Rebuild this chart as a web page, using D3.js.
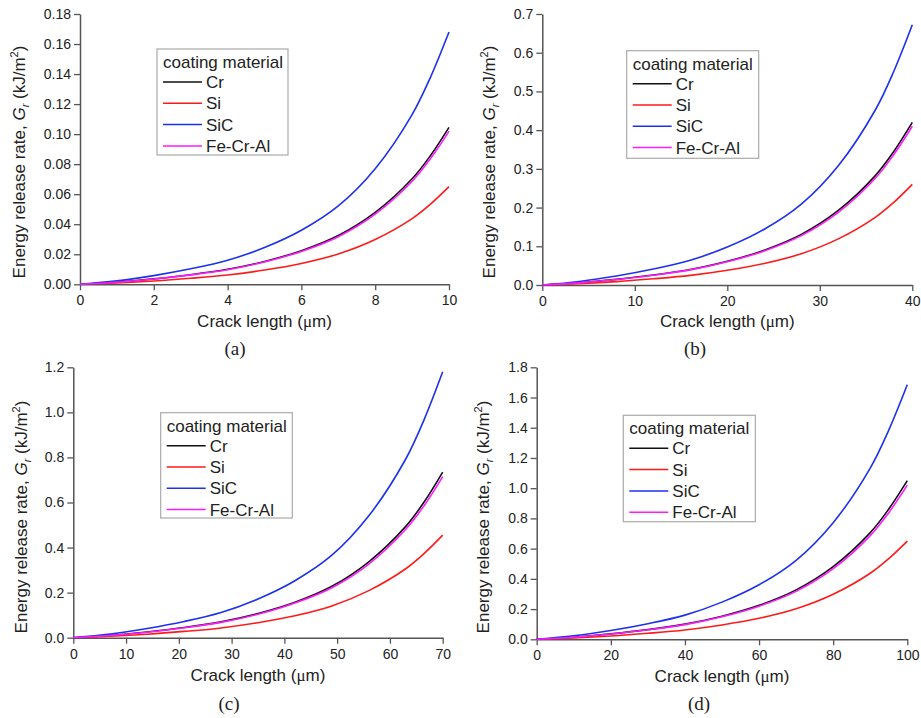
<!DOCTYPE html>
<html><head><meta charset="utf-8">
<script src="https://cdn.jsdelivr.net/npm/d3@7"></script>
<style>
body{margin:0;background:#fff;}
svg{display:block;}
</style></head>
<body>
<svg id="chart" width="921" height="718"></svg>
<script>
// ---------- data ----------
const seriesNames = ["Cr", "Si", "SiC", "Fe-Cr-Al"];
const legendTitle = "coating material";

// panel (a): crack length 0–10 µm
const xA   = [0, 1, 2, 3, 4, 5, 6, 7, 8, 9, 9.5, 10];
const crA  = [0, 0.0014, 0.0036, 0.0064, 0.0100, 0.0152, 0.0224, 0.0325, 0.0479, 0.0703, 0.0858, 0.1045];
const siA  = [0, 0.0009, 0.0022, 0.0040, 0.0062, 0.0095, 0.0139, 0.0202, 0.0298, 0.0437, 0.0534, 0.0650];
const sicA = [0, 0.0023, 0.0058, 0.0103, 0.0160, 0.0245, 0.0360, 0.0522, 0.0770, 0.1130, 0.1380, 0.1680];
const feA  = [0, 0.0014, 0.0035, 0.0063, 0.0097, 0.0149, 0.0219, 0.0317, 0.0467, 0.0686, 0.0838, 0.1020];

// panel (b): 0–40 µm
const xB   = [0, 4, 8, 12, 16, 20, 24, 28, 32, 36, 38, 40];
const crB  = [0, 0.0056, 0.0145, 0.0257, 0.0402, 0.0611, 0.0900, 0.1307, 0.1926, 0.2826, 0.3450, 0.4200];
const siB  = [0, 0.0036, 0.0088, 0.0160, 0.0248, 0.0380, 0.0556, 0.0808, 0.1192, 0.1748, 0.2136, 0.2600];
const sicB = [0, 0.0092, 0.0232, 0.0412, 0.0640, 0.0980, 0.1440, 0.2088, 0.3080, 0.4520, 0.5520, 0.6720];
const feB  = [0, 0.0056, 0.0141, 0.0253, 0.0390, 0.0599, 0.0880, 0.1275, 0.1877, 0.2758, 0.3369, 0.4100];

// panel (c): 0–70 µm
const xC   = [0, 7, 14, 21, 28, 35, 42, 49, 56, 63, 66.5, 70];
const crC  = [0, 0.0098, 0.0253, 0.0450, 0.0703, 0.1070, 0.1570, 0.2280, 0.3370, 0.4940, 0.6030, 0.7350];
const siC  = [0, 0.0063, 0.0154, 0.0280, 0.0434, 0.0665, 0.0973, 0.1410, 0.2090, 0.3060, 0.3740, 0.4550];
const sicC = [0, 0.0160, 0.0410, 0.0720, 0.1120, 0.1720, 0.2530, 0.3660, 0.5410, 0.7930, 0.9690, 1.1800];
const feC  = [0, 0.0098, 0.0245, 0.0442, 0.0680, 0.1040, 0.1540, 0.2220, 0.3270, 0.4810, 0.5870, 0.7150];

// panel (d): 0–100 µm
const xD   = [0, 10, 20, 30, 40, 50, 60, 70, 80, 90, 95, 100];
const crD  = [0, 0.014, 0.036, 0.064, 0.1005, 0.153, 0.225, 0.327, 0.481, 0.706, 0.862, 1.050];
const siD  = [0, 0.009, 0.022, 0.040, 0.062, 0.095, 0.139, 0.202, 0.298, 0.437, 0.534, 0.650];
const sicD = [0, 0.023, 0.058, 0.103, 0.160, 0.246, 0.361, 0.523, 0.772, 1.133, 1.384, 1.685];
const feD  = [0, 0.014, 0.035, 0.063, 0.097, 0.149, 0.219, 0.317, 0.467, 0.686, 0.838, 1.020];

// axis ticks
const xTicksA = [0, 2, 4, 6, 8, 10];
const xTicksB = [0, 10, 20, 30, 40];
const xTicksC = [0, 10, 20, 30, 40, 50, 60, 70];
const xTicksD = [0, 20, 40, 60, 80, 100];
const yTicksA = [0, 0.02, 0.04, 0.06, 0.08, 0.10, 0.12, 0.14, 0.16, 0.18];
const yTicksB = [0, 0.1, 0.2, 0.3, 0.4, 0.5, 0.6, 0.7];
const yTicksC = [0, 0.2, 0.4, 0.6, 0.8, 1.0, 1.2];
const yTicksD = [0, 0.2, 0.4, 0.6, 0.8, 1.0, 1.2, 1.4, 1.6, 1.8];
const captions = ["(a)", "(b)", "(c)", "(d)"];

// ---------- layout / style ----------
const colors = {"Cr": "#111111", "Si": "#ff1a1a", "SiC": "#1c30f0", "Fe-Cr-Al": "#ff1aff"};
const FONT = "'Liberation Sans', Arial, Helvetica, sans-serif";
const AXIS = "#555";

const panels = [
  {x: xA, ys: [crA, siA, sicA, feA], xDom: [0, 10], yDom: [0, 0.18], xTicks: xTicksA, yTicks: yTicksA, yFmt: ".2f",
   L: 80, R: 449, T: 14, B: 284.3, leg: [157, 49, 131, 106], ylabX: 25, ylabY: 162, xlabY: 327, cap: [235, 355]},
  {x: xB, ys: [crB, siB, sicB, feB], xDom: [0, 40], yDom: [0, 0.7], xTicks: xTicksB, yTicks: yTicksB, yFmt: ".1f",
   L: 542.3, R: 912.3, T: 14, B: 285, leg: [626.7, 50.7, 132, 107.6], ylabX: 495, ylabY: 162, xlabY: 327, cap: [695, 355]},
  {x: xC, ys: [crC, siC, sicC, feC], xDom: [0, 70], yDom: [0, 1.2], xTicks: xTicksC, yTicks: yTicksC, yFmt: ".1f",
   L: 73.3, R: 442.7, T: 367.3, B: 637.7, leg: [160.7, 412.7, 131.6, 105.3], ylabX: 26.5, ylabY: 517, xlabY: 680.5, cap: [229, 710]},
  {x: xD, ys: [crD, siD, sicD, feD], xDom: [0, 100], yDom: [0, 1.8], xTicks: xTicksD, yTicks: yTicksD, yFmt: ".1f",
   L: 536.7, R: 907.3, T: 367.3, B: 639.3, leg: [623.3, 415.3, 132, 106.4], ylabX: 489, ylabY: 517, xlabY: 681.5, cap: [699, 710]}
];

const svg = d3.select("#chart");

panels.forEach((p, pi) => {
  const x = d3.scaleLinear().domain(p.xDom).range([p.L, p.R]);
  const y = d3.scaleLinear().domain(p.yDom).range([p.B, p.T]);
  const g = svg.append("g");

  // axes
  const xAxis = d3.axisBottom(x).tickValues(p.xTicks).tickFormat(d3.format("d")).tickSize(6).tickPadding(5).tickSizeOuter(0);
  const yAxis = d3.axisLeft(y).tickValues(p.yTicks).tickFormat(d3.format(p.yFmt)).tickSize(6).tickPadding(3).tickSizeOuter(0);
  const gx = g.append("g").attr("transform", `translate(0,${p.B})`).call(xAxis);
  const gy = g.append("g").attr("transform", `translate(${p.L},0)`).call(yAxis);
  [gx, gy].forEach(a => {
    a.selectAll("path.domain").attr("stroke", AXIS).attr("stroke-width", 1.5);
    a.selectAll(".tick line").attr("stroke", AXIS).attr("stroke-width", 1.3);
    a.selectAll(".tick text").attr("fill", "#222").style("font-family", FONT).style("font-size", "14px");
  });

  // curves
  const line = d3.line().x(d => x(d[0])).y(d => y(d[1])).curve(d3.curveCatmullRom.alpha(0.5));
  seriesNames.forEach((name, si) => {
    const pts = p.x.map((xv, i) => [xv, p.ys[si][i]]);
    g.append("path").datum(pts)
      .attr("d", line)
      .attr("fill", "none")
      .attr("stroke", colors[name])
      .attr("stroke-width", 1.6);
  });

  // x label
  const xl = g.append("text")
    .attr("x", (p.L + p.R) / 2).attr("y", p.xlabY)
    .attr("text-anchor", "middle").attr("fill", "#222")
    .style("font-family", FONT).style("font-size", "17px");
  xl.append("tspan").text("Crack length (");
  xl.append("tspan").text("\u03bc").style("font-family", "'Liberation Serif', 'Times New Roman', serif");
  xl.append("tspan").text("m)");

  // y label
  const yl = g.append("text")
    .attr("transform", `translate(${p.ylabX},${p.ylabY}) rotate(-90)`)
    .attr("text-anchor", "middle").attr("fill", "#222")
    .style("font-family", FONT).style("font-size", "17px");
  yl.append("tspan").text("Energy release rate, ");
  yl.append("tspan").text("G").style("font-style", "italic");
  yl.append("tspan").text("r").style("font-style", "italic").style("font-size", "11px").attr("dy", 4);
  yl.append("tspan").text(" (kJ/m").attr("dy", -4);
  yl.append("tspan").text("2").style("font-size", "11px").attr("dy", -7);
  yl.append("tspan").text(")").attr("dy", 7);

  // legend
  const [lx, ly, lw, lh] = p.leg;
  const lg = g.append("g").attr("transform", `translate(${lx},${ly})`);
  lg.append("rect").attr("width", lw).attr("height", lh)
    .attr("fill", "#fff").attr("stroke", "#aaa").attr("stroke-width", 1.2);
  lg.append("text").attr("x", 6).attr("y", 19).text(legendTitle)
    .attr("fill", "#222").style("font-family", FONT).style("font-size", "17px");
  seriesNames.forEach((name, si) => {
    const cy = 33 + si * 21.3;
    lg.append("line").attr("x1", 6).attr("x2", 45).attr("y1", cy).attr("y2", cy)
      .attr("stroke", colors[name]).attr("stroke-width", 1.5);
    lg.append("text").attr("x", 49).attr("y", cy + 6).text(name)
      .attr("fill", "#222").style("font-family", FONT).style("font-size", "17px");
  });

  // caption
  g.append("text").attr("x", p.cap[0]).attr("y", p.cap[1]).attr("text-anchor", "middle")
    .text(captions[pi]).attr("fill", "#222")
    .style("font-family", "'Liberation Serif', 'Times New Roman', serif").style("font-size", "19px");
});
</script>
</body></html>
